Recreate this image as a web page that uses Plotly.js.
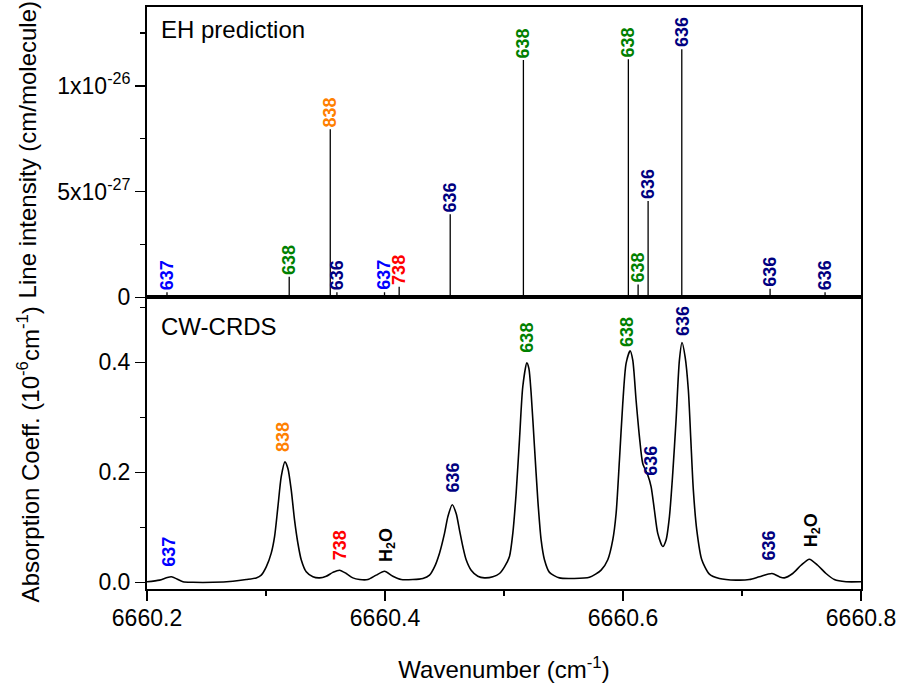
<!DOCTYPE html>
<html>
<head>
<meta charset="utf-8">
<script src="https://cdn.plot.ly/plotly-3.0.1.min.js"></script>
<style>html,body{margin:0;padding:0;background:#fff;}#chart{width:900px;height:686px;}</style>
</head>
<body>
<div id="chart"></div>
<script>
// ---- EH prediction: stick positions (cm-1), intensities (cm/molecule), isotopologue labels
const stickPos = [6660.2168, 6660.3195, 6660.3540, 6660.3596, 6660.3996, 6660.4119, 6660.4548,
                  6660.5163, 6660.6045, 6660.6127, 6660.6211, 6660.6494, 6660.7236, 6660.7698];
const stickInt = [0.24e-27, 0.97e-27, 7.95e-27, 0.24e-27, 0.24e-27, 0.50e-27, 3.93e-27,
                  11.22e-27, 11.26e-27, 0.61e-27, 4.56e-27, 11.73e-27, 0.41e-27, 0.24e-27];
const stickLabel = ['637','638','838','636','637','738','636','638','638','638','636','636','636','636'];

// ---- CW-CRDS spectrum: wavenumber (cm-1) and absorption coefficient (1e-6 cm-1)
const specX = [6660.2000,6660.2106,6660.2204,6660.2302,6660.2386,6660.2554,6660.2722,6660.2834,6660.2918,6660.2960,
  6660.3002,6660.3044,6660.3072,6660.3100,6660.3128,6660.3159,6660.3184,6660.3212,6660.3240,6660.3268,
  6660.3296,6660.3338,6660.3394,6660.3450,6660.3506,6660.3562,6660.3618,6660.3674,6660.3730,6660.3786,
  6660.3856,6660.3926,6660.3996,6660.4066,6660.4136,6660.4234,6660.4318,6660.4374,6660.4416,6660.4458,
  6660.4500,6660.4528,6660.4565,6660.4598,6660.4626,6660.4654,6660.4682,6660.4724,6660.4780,6660.4836,
  6660.4906,6660.4962,6660.5004,6660.5046,6660.5074,6660.5102,6660.5130,6660.5158,6660.5192,6660.5209,
  6660.5228,6660.5256,6660.5284,6660.5312,6660.5340,6660.5382,6660.5466,6660.5578,6660.5718,6660.5816,
  6660.5872,6660.5914,6660.5942,6660.5970,6660.5998,6660.6026,6660.6060,6660.6082,6660.6110,6660.6138,
  6660.6166,6660.6208,6660.6236,6660.6264,6660.6292,6660.6334,6660.6362,6660.6390,6660.6418,6660.6446,
  6660.6474,6660.6496,6660.6522,6660.6549,6660.6570,6660.6591,6660.6620,6660.6662,6660.6726,6660.6810,
  6660.6950,6660.7062,6660.7146,6660.7252,6660.7314,6660.7356,6660.7426,6660.7496,6660.7566,6660.7636,
  6660.7706,6660.7776,6660.7874,6660.8000];
const specY = [0.001,0.004,0.010,0.001,0.000,0.000,0.002,0.005,0.008,0.013,
  0.028,0.053,0.083,0.137,0.192,0.219,0.207,0.168,0.113,0.071,
  0.041,0.019,0.010,0.008,0.011,0.018,0.022,0.016,0.008,0.005,
  0.005,0.013,0.020,0.011,0.005,0.005,0.007,0.013,0.028,0.053,
  0.089,0.119,0.141,0.125,0.095,0.065,0.041,0.022,0.011,0.008,
  0.010,0.016,0.028,0.047,0.089,0.162,0.259,0.356,0.399,0.389,
  0.344,0.247,0.150,0.077,0.041,0.018,0.008,0.007,0.009,0.022,
  0.041,0.077,0.125,0.222,0.325,0.398,0.421,0.404,0.331,0.265,
  0.216,0.195,0.174,0.131,0.089,0.065,0.077,0.119,0.198,0.295,
  0.404,0.436,0.410,0.350,0.259,0.168,0.095,0.041,0.015,0.007,
  0.004,0.005,0.010,0.016,0.010,0.008,0.016,0.031,0.042,0.031,
  0.016,0.005,0.001,0.001];

// ---- assignments of the observed lines (label anchor in data coords)
const peakLabel = ['637','838','738','H<sub>2</sub>O','636','638','638','636','636','636','H<sub>2</sub>O'];
const peakLabelX = [6660.2190,6660.3148,6660.3618,6660.4020,6660.4568,6660.5186,6660.6040,6660.6236,6660.6499,6660.7225,6660.7587];
const peakLabelY = [0.0255,0.2345,0.0375,0.0356,0.1605,0.4160,0.4255,0.1920,0.4465,0.0375,0.0618];

// ---- axis tick values / labels and titles
const upperTickVals = [0, 5e-27, 1e-26];
const upperTickText = ['0', '5x10<sup>-27</sup>', '1x10<sup>-26</sup>'];
const upperMinorVals = [2.5e-27, 7.5e-27, 1.25e-26];
const xTitle = 'Wavenumber (cm<sup>-1</sup>)';
const yTitleUpper = 'Line intensity (cm/molecule)';
const yTitleLower = 'Absorption Coeff. (10<sup>-6</sup>cm<sup>-1</sup>)';

const isoColor = {'636':'#000080','637':'#0000FF','638':'#008000','738':'#FF0000','838':'#FF8000','H<sub>2</sub>O':'#000000'};
const FONT = 'Liberation Sans, Arial, sans-serif';

// build stick segments from the data arrays
const sx = [], sy = [];
stickPos.forEach((p, i) => { sx.push(p, p, null); sy.push(0, stickInt[i], null); });

const traces = [
  {x: sx, y: sy, xaxis: 'x', yaxis: 'y', mode: 'lines', type: 'scatter',
   line: {color: '#000', width: 1.3}, hoverinfo: 'skip'},
  {x: specX, y: specY, xaxis: 'x2', yaxis: 'y2', mode: 'lines', type: 'scatter',
   line: {color: '#000', width: 1.6, shape: 'spline', smoothing: 0.7}}
];

const annotations = [];
stickPos.forEach((p, i) => {
  annotations.push({x: p, y: stickInt[i], xref: 'x', yref: 'y', text: stickLabel[i], showarrow: false,
    textangle: -90, xanchor: 'center', yanchor: 'bottom', borderpad: 0, yshift: 1,
    font: {family: FONT, size: 18, color: isoColor[stickLabel[i]], weight: 'bold'}});
});
peakLabel.forEach((t, i) => {
  annotations.push({x: peakLabelX[i], y: peakLabelY[i], xref: 'x2', yref: 'y2', text: t, showarrow: false,
    textangle: -90, xanchor: 'center', yanchor: 'bottom', borderpad: 0,
    font: {family: FONT, size: 18, color: isoColor[t], weight: 'bold'}});
});
annotations.push({xref: 'x domain', yref: 'y domain', x: 0.017, y: 0.976, xanchor: 'left', yanchor: 'top',
  text: 'EH prediction', showarrow: false, font: {family: FONT, size: 24, color: '#000'}});
annotations.push({xref: 'x2 domain', yref: 'y2 domain', x: 0.017, y: 0.954, xanchor: 'left', yanchor: 'top',
  text: 'CW-CRDS', showarrow: false, font: {family: FONT, size: 24, color: '#000'}});
// y-axis titles (rotated), one per panel
annotations.push({xref: 'paper', yref: 'paper', x: -0.1661, y: 0.7543, xanchor: 'center', yanchor: 'middle',
  textangle: -90, text: yTitleUpper, showarrow: false, borderpad: 0, font: {family: FONT, size: 24, color: '#000'}});
annotations.push({xref: 'paper', yref: 'paper', x: -0.1661, y: 0.2320, xanchor: 'center', yanchor: 'middle',
  textangle: -90, text: yTitleLower, showarrow: false, borderpad: 0, font: {family: FONT, size: 24, color: '#000'}});

const axisCommon = {showline: true, linecolor: '#000', linewidth: 2, mirror: true, showgrid: false,
  zeroline: false, tickcolor: '#000', tickwidth: 1.5, tickfont: {family: FONT, size: 23, color: '#000'}};

const split = 0.5012;
const layout = {
  width: 900, height: 686,
  margin: {l: 147, r: 39, t: 7, b: 97},
  paper_bgcolor: '#fff', plot_bgcolor: '#fff',
  showlegend: false,
  font: {family: FONT, color: '#000'},
  xaxis: Object.assign({}, axisCommon, {anchor: 'y', range: [6660.2, 6660.8], matches: 'x2',
    showticklabels: false, ticks: ''}),
  xaxis2: Object.assign({}, axisCommon, {anchor: 'y2', range: [6660.2, 6660.8],
    ticks: 'outside', ticklen: 10, dtick: 0.2, tick0: 6660.2, tickformat: '.1f', ticklabelstandoff: -3,
    minor: {dtick: 0.1, tick0: 6660.2, ticks: 'outside', ticklen: 5, tickwidth: 1.5, tickcolor: '#000'},
    title: {text: xTitle, font: {family: FONT, size: 24, color: '#000'}, standoff: 32}}),
  yaxis: Object.assign({}, axisCommon, {anchor: 'x', domain: [split, 1], range: [0, 1.373e-26],
    ticks: 'outside', ticklen: 10, tickmode: 'array', tickvals: upperTickVals, ticktext: upperTickText,
    minor: {tickmode: 'array', tickvals: upperMinorVals, ticks: 'outside', ticklen: 5, tickwidth: 1.5, tickcolor: '#000'}}),
  yaxis2: Object.assign({}, axisCommon, {anchor: 'x2', domain: [0, split], range: [-0.0122, 0.5182],
    ticks: 'outside', ticklen: 10, dtick: 0.2, tick0: 0, tickformat: '.1f',
    minor: {dtick: 0.1, tick0: 0, ticks: 'outside', ticklen: 5, tickwidth: 1.5, tickcolor: '#000'}}),
  annotations: annotations
};

Plotly.newPlot('chart', traces, layout, {displayModeBar: false, staticPlot: true});
</script>
</body>
</html>
